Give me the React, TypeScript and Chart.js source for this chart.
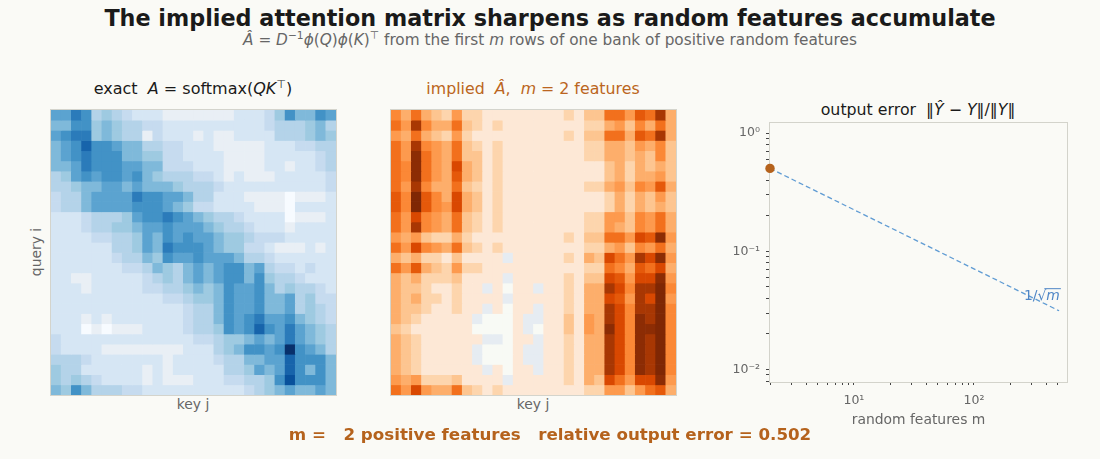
import React, { useEffect, useRef } from 'react';
import { Chart, registerables } from 'chart.js';

Chart.register(...registerables);
Chart.defaults.font.family = "'DejaVu Sans', sans-serif";

const FONT = "'DejaVu Sans', sans-serif";
const BG = '#fafaf6';
const ACCENT = '#b5621c';
const REF_COLOR = '#5f9bd3';

// ---- data ----------------------------------------------------------------
// key positions j (columns) of the 28 x 28 attention matrices
const KEY_LABELS = ['0','1','2','3','4','5','6','7','8','9','10','11','12','13','14','15','16','17','18','19','20','21','22','23','24','25','26','27'];

// shade levels read per cell of the exact softmax attention (0 = lightest, 12 = darkest)
const EXACT_ROWS: number[][] = [
  [7,7,9,8,4,5,4,3,2,2,2,1,1,1,1,1,1,1,2,2,2,3,5,8,6,6,8,7],
  [6,6,8,8,5,6,5,4,4,3,3,2,2,2,2,2,2,2,2,2,2,3,4,4,4,5,6,4],
  [7,8,9,9,5,6,5,4,4,1,3,2,2,2,1,2,1,1,2,2,2,2,4,4,4,5,6,5],
  [6,7,8,10,8,8,7,6,6,4,4,3,3,2,2,2,1,1,1,1,1,2,2,2,3,3,4,4],
  [6,7,8,9,8,8,8,6,6,5,5,3,3,2,2,2,2,1,1,1,1,2,2,2,2,2,3,4],
  [6,6,7,9,8,8,8,7,7,6,6,3,3,3,2,2,2,1,1,1,1,2,2,1,2,2,3,4],
  [4,5,7,8,7,8,8,7,8,6,5,4,4,4,3,3,2,1,2,1,1,1,2,2,2,2,2,3],
  [4,4,5,6,6,7,7,6,7,6,6,6,5,4,4,4,3,2,2,2,2,2,2,2,2,2,2,3],
  [3,4,4,6,7,7,7,7,9,8,8,7,7,6,4,4,2,2,2,1,1,1,1,0,1,1,1,2],
  [3,4,4,6,7,7,7,7,8,8,8,7,6,5,3,3,2,2,2,2,1,1,1,0,2,2,2,2],
  [2,2,2,3,4,4,4,5,7,8,8,9,8,7,6,5,4,4,3,2,2,2,2,0,1,1,1,2],
  [2,2,2,3,4,4,5,5,6,7,7,8,7,7,7,6,5,4,4,3,2,2,2,1,2,2,2,2],
  [2,2,2,2,3,3,4,4,5,7,6,8,7,8,7,7,6,5,5,4,3,3,3,2,2,2,2,2],
  [2,2,2,2,2,2,4,4,5,7,6,9,8,8,8,7,6,5,5,3,3,2,1,1,1,2,1,2],
  [2,2,2,2,2,2,3,4,4,6,5,8,7,7,8,7,7,7,6,4,4,3,2,2,2,2,2,2],
  [2,2,2,2,2,2,2,3,3,4,6,5,4,6,7,6,7,8,8,6,7,4,3,3,2,3,2,2],
  [2,2,1,1,2,2,2,2,2,3,4,5,4,6,7,6,7,8,8,6,8,5,4,4,3,2,2,2],
  [2,2,2,1,2,2,2,2,2,3,3,4,4,5,6,5,6,8,7,7,8,6,4,5,4,4,3,2],
  [2,2,2,2,2,2,2,2,2,2,2,3,3,4,5,5,6,8,7,7,8,6,6,7,4,5,3,3],
  [2,2,2,2,2,2,2,2,2,2,2,2,2,3,4,4,6,8,7,7,8,6,6,7,4,5,4,3],
  [2,2,2,1,2,1,2,2,2,2,2,2,2,3,4,4,6,8,7,8,9,7,7,8,6,5,4,3],
  [2,2,2,0,1,0,1,1,1,2,2,2,2,3,4,4,5,8,7,8,10,8,7,9,7,6,5,4],
  [3,2,2,2,2,2,2,2,2,2,2,2,2,2,3,3,4,5,5,6,7,6,7,9,7,6,5,4],
  [3,2,2,2,2,1,1,1,1,1,1,1,1,2,2,2,4,5,6,8,8,7,8,12,8,7,6,4],
  [4,4,4,3,2,2,2,2,2,2,2,1,2,2,2,2,3,4,4,6,6,7,7,10,8,8,8,6],
  [5,4,4,2,2,2,2,2,2,1,2,1,2,2,2,2,2,4,4,5,7,6,7,10,8,6,8,6],
  [5,4,5,4,3,2,2,2,2,1,2,1,1,1,2,2,2,3,3,4,4,5,8,11,8,8,8,6],
  [6,5,8,6,4,4,4,3,3,2,2,2,2,2,2,2,2,2,2,3,4,5,6,7,6,6,7,6],
];

// shade levels read per cell of the implied matrix with m = 2 features
// (0 = lightest orange, 11 = darkest; -1 / -2 = cells drawn below the colour range)
const IMPLIED_ROWS: number[][] = [
  [5,3,6,3,2,1,4,1,1,0,0,0,0,0,0,0,0,1,0,2,2,6,6,4,7,6,9,3],
  [6,4,9,5,3,3,6,2,1,0,1,0,0,0,0,0,0,0,0,1,1,3,4,2,5,3,6,3],
  [4,3,6,3,2,1,4,1,0,0,0,0,0,0,0,0,0,1,0,2,2,6,6,3,7,6,9,3],
  [6,4,9,5,4,3,6,2,1,0,1,0,0,0,0,0,0,0,0,1,1,3,3,2,4,3,5,2],
  [6,4,10,6,4,3,6,2,2,0,1,0,0,0,0,0,0,0,0,1,1,3,3,2,3,2,5,2],
  [6,5,10,6,4,3,8,3,2,0,1,0,0,0,0,0,0,0,0,0,0,2,3,1,3,2,3,2],
  [6,5,10,6,4,3,7,3,2,0,1,0,0,0,0,0,0,0,0,0,0,2,3,1,3,3,4,2],
  [6,4,9,5,3,3,6,2,1,0,1,0,0,0,0,0,0,0,0,1,1,3,4,2,5,4,7,3],
  [7,5,11,7,5,3,8,3,2,0,1,0,0,0,0,0,0,0,0,0,0,1,3,1,3,2,4,2],
  [7,5,11,7,5,4,8,3,2,0,1,0,0,0,0,0,0,0,0,0,0,1,3,1,3,2,3,2],
  [6,4,8,5,4,3,6,2,1,0,1,0,0,0,0,0,0,0,0,1,1,4,4,2,5,4,6,3],
  [6,4,9,5,4,3,6,2,1,0,1,0,0,0,0,0,0,0,0,1,1,4,3,2,5,4,6,3],
  [4,3,4,2,1,1,3,1,0,0,0,0,0,0,0,0,0,1,0,2,2,6,6,4,8,7,10,4],
  [6,4,8,5,4,3,6,2,1,0,1,0,0,0,0,0,0,0,0,1,1,3,4,2,5,4,6,3],
  [3,2,3,1,1,0,2,0,0,0,0,-1,0,0,0,0,0,1,0,3,2,8,6,4,9,8,10,4],
  [6,4,7,3,2,1,4,1,1,0,0,0,0,0,0,0,0,0,0,1,1,6,5,3,7,6,8,3],
  [3,2,3,1,1,1,2,0,0,0,0,-1,0,0,0,0,0,1,0,2,2,8,7,4,8,8,10,4],
  [3,2,2,1,0,0,1,0,0,-1,0,-2,0,0,-1,0,0,1,0,3,3,9,8,5,9,9,11,5],
  [3,2,3,1,1,0,1,0,0,0,0,-1,0,0,0,0,0,1,0,3,3,8,7,4,9,8,11,4],
  [3,2,2,1,0,0,1,0,0,-1,0,-2,0,0,-1,0,0,1,0,3,3,9,8,5,9,9,11,5],
  [3,2,1,0,0,0,0,0,-1,-2,-2,-2,0,-1,-1,0,0,2,0,4,3,9,8,5,10,9,11,5],
  [2,1,0,0,0,0,0,0,-2,-2,-2,-2,0,-1,-2,0,0,2,0,4,3,10,8,5,10,10,11,5],
  [3,2,1,0,0,0,0,0,0,-1,-1,-2,0,0,-1,0,0,1,0,3,3,9,8,5,10,9,11,5],
  [3,2,1,0,0,0,0,0,-1,-2,-2,-2,0,-1,-1,0,0,1,0,3,3,9,8,5,10,9,11,5],
  [3,2,1,0,0,0,0,0,-1,-2,-2,-2,0,-1,-1,0,0,1,0,3,3,9,8,5,10,9,11,5],
  [3,2,1,0,0,0,0,0,0,-1,0,-2,0,0,-1,0,0,1,0,3,3,9,8,5,10,9,11,5],
  [4,3,4,1,1,1,2,0,0,0,0,-1,0,0,0,0,0,1,0,3,2,8,6,4,8,8,10,4],
  [6,4,8,4,3,3,6,2,1,0,1,0,0,0,0,0,0,0,0,1,1,4,4,2,4,6,7,3],
];

// output-error panel
const M_OBSERVED = [2];
const ERR_OBSERVED = [0.502];
const REF_M = [2, 512];
const REF_ERR = [0.502, 0.0314];
const REF_LABEL_AT = { m: 520, err: 0.0386 };
const X_TICKS = [2,3,4,5,6,7,8,9,10,20,30,40,50,60,70,80,90,100,200,300,400,500];
const Y_TICKS = [0.008,0.009,0.01,0.02,0.03,0.04,0.05,0.06,0.07,0.08,0.09,0.1,0.2,0.3,0.4,0.5,0.6,0.7,0.8,0.9,1];
const X_TICK_LABELS: Record<string, string> = { '10': '10¹', '100': '10²' };
const Y_TICK_LABELS: Record<string, string> = { '1': '10⁰', '0.1': '10⁻¹', '0.01': '10⁻²' };

// ---- colours ---------------------------------------------------------------
const BLUES = ['#f7fbff','#e9eff5','#d6e6f4','#c6dbef','#b4d3e9','#9ecae1','#7fb9da','#5ba3d0','#4292c6','#2b7bba','#1764ab','#08519c','#08306b'];
const ORANGES = ['#fde8d6','#fdd5ad','#fdc590','#fdae6b','#fd9a4e','#fb8836','#f2701d','#e5590a','#d94801','#a83703','#8c2c04','#7f2704'];
const blueOf = (lv: number) => BLUES[Math.max(0, Math.min(BLUES.length - 1, lv))];
const orangeOf = (lv: number) => (lv === -2 ? '#f8faf5' : lv === -1 ? '#e6ecf2' : ORANGES[Math.min(ORANGES.length - 1, lv)]);

const framePlugin = (id: string, color: string, before: boolean) => {
  const draw = (chart: any) => {
    const { ctx, chartArea: a } = chart;
    ctx.save();
    ctx.strokeStyle = color;
    ctx.lineWidth = 1;
    ctx.strokeRect(Math.round(a.left) - 0.5, Math.round(a.top) - 0.5, Math.round(a.right - a.left) + 1, Math.round(a.bottom - a.top) + 1);
    ctx.restore();
  };
  return before ? { id, beforeDatasetsDraw: draw } : { id, afterDatasetsDraw: draw };
};

function Heatmap({ rows, colorOf, left, top }: { rows: number[][]; colorOf: (v: number) => string; left: number; top: number }) {
  const ref = useRef<HTMLCanvasElement>(null);
  useEffect(() => {
    const chart = new Chart(ref.current!, {
      type: 'bar',
      data: {
        labels: KEY_LABELS,
        datasets: rows.map((row, i) => ({
          label: `query ${i}`,
          data: row.map(() => 1),
          backgroundColor: row.map(colorOf),
          borderWidth: 0,
          barPercentage: 1,
          categoryPercentage: 1,
        })),
      },
      options: {
        responsive: false,
        animation: false,
        layout: { padding: 1 },
        plugins: { legend: { display: false }, tooltip: { enabled: false } },
        scales: {
          x: { display: false, stacked: true },
          y: { display: false, stacked: true, min: 0, max: rows.length, reverse: true },
        },
      },
      plugins: [framePlugin('hmFrame', '#d4d4cc', false)],
    } as any);
    return () => chart.destroy();
  }, []);
  return <canvas ref={ref} width={287} height={287} style={{ position: 'absolute', left, top }} />;
}

const refLabelPlugin = {
  id: 'refLabel',
  afterDatasetsDraw(chart: any) {
    const { ctx, scales } = chart;
    const px = scales.x.getPixelForValue(REF_LABEL_AT.m);
    const py = scales.y.getPixelForValue(REF_LABEL_AT.err);
    ctx.save();
    ctx.fillStyle = '#4f86c6';
    ctx.strokeStyle = '#4f86c6';
    ctx.textBaseline = 'alphabetic';
    ctx.textAlign = 'left';
    const normal = `13.9px ${FONT}`;
    const italic = `italic 13.9px ${FONT}`;
    ctx.font = italic;
    const wm = ctx.measureText('m').width;
    ctx.font = normal;
    const wp = ctx.measureText('1/√').width;
    ctx.fillText('1/√', px - wm - wp, py);
    ctx.font = italic;
    ctx.fillText('m', px - wm, py);
    ctx.lineWidth = 1;
    ctx.beginPath();
    ctx.moveTo(px - wm - 2, py - 11.5);
    ctx.lineTo(px + 1, py - 11.5);
    ctx.stroke();
    ctx.restore();
  },
};

const noPad = (s: any) => {
  s.paddingTop = 0;
  s.paddingBottom = 0;
  s.paddingLeft = 0;
  s.paddingRight = 0;
};

function ErrorPlot() {
  const ref = useRef<HTMLCanvasElement>(null);
  useEffect(() => {
    const tickFont = { size: 12.5 };
    const chart = new Chart(ref.current!, {
      type: 'scatter',
      data: {
        datasets: [
          {
            type: 'scatter',
            label: 'error',
            data: M_OBSERVED.map((m, i) => ({ x: m, y: ERR_OBSERVED[i] })),
            backgroundColor: ACCENT,
            borderWidth: 0,
            pointRadius: 4.7,
            clip: false,
            order: 0,
          },
          {
            type: 'line',
            label: '1/sqrt(m)',
            data: REF_M.map((m, i) => ({ x: m, y: REF_ERR[i] })),
            borderColor: REF_COLOR,
            borderWidth: 1.3,
            borderDash: [5, 3],
            pointRadius: 0,
            fill: false,
            order: 1,
          },
        ],
      },
      options: {
        responsive: false,
        animation: false,
        layout: { padding: { left: 0, right: 33, top: 10, bottom: 0 } },
        plugins: { legend: { display: false }, tooltip: { enabled: false } },
        scales: {
          x: {
            type: 'logarithmic',
            min: 2,
            max: 596,
            afterBuildTicks: (s: any) => { s.ticks = X_TICKS.map((v) => ({ value: v })); },
            afterFit: (s: any) => { s.height = 50; noPad(s); },
            ticks: {
              autoSkip: false, maxRotation: 0, minRotation: 0, padding: 8, color: '#666', font: tickFont,
              callback: (v: any) => X_TICK_LABELS[String(v)] ?? '',
            },
            grid: { drawOnChartArea: false, tickLength: 3, color: '#444' },
            border: { display: false },
            title: { display: true, text: 'random features m', color: '#666', font: { size: 13.9 }, padding: { top: 0, bottom: 3 } },
          },
          y: {
            type: 'logarithmic',
            min: 0.00785,
            max: 1.215,
            afterBuildTicks: (s: any) => { s.ticks = Y_TICKS.map((v) => ({ value: v })); },
            afterFit: (s: any) => { s.width = 50; noPad(s); },
            ticks: {
              autoSkip: false, padding: 6, color: '#666', font: tickFont,
              callback: (v: any) => Y_TICK_LABELS[String(v)] ?? '',
            },
            grid: { drawOnChartArea: false, tickLength: 4, color: '#444' },
            border: { display: false },
          },
        },
      },
      plugins: [framePlugin('errFrame', '#d3d3cb', true), refLabelPlugin],
    } as any);
    return () => chart.destroy();
  }, []);
  return <canvas ref={ref} width={380} height={319} style={{ position: 'absolute', left: 720, top: 113 }} />;
}

const I = ({ children }: any) => <span style={{ fontStyle: 'italic' }}>{children}</span>;
const Sup = ({ children }: any) => <span style={{ fontSize: '0.7em', position: 'relative', top: '-0.55em' }}>{children}</span>;

function Label({ cx, cy, size, color, weight = 'normal', rotate = false, children }: any) {
  return (
    <div
      style={{
        position: 'absolute', left: cx, top: cy,
        transform: `translate(-50%, -50%)${rotate ? ' rotate(-90deg)' : ''}`,
        fontSize: size, lineHeight: 1, color, fontWeight: weight, whiteSpace: 'pre',
      }}
    >
      {children}
    </div>
  );
}

export default function App() {
  return (
    <div style={{ position: 'fixed', left: 0, top: 0, width: 1100, height: 459, background: BG, overflow: 'hidden', fontFamily: FONT }}>
      <Label cx={550} cy={18} size={22.3} color="#1a1a1a" weight="bold">
        The implied attention matrix sharpens as random features accumulate
      </Label>
      <Label cx={550} cy={41} size={15.3} color="#666">
        <I>Â</I> = <I>D</I><Sup>−1</Sup><I>ϕ</I>(<I>Q</I>)<I>ϕ</I>(<I>K</I>)<Sup>⊤</Sup> from the first <I>m</I> rows of one bank of positive random features
      </Label>

      <Label cx={193} cy={89} size={16} color="#1a1a1a">
        exact  <I>A</I> = softmax(<I>QK</I><Sup>⊤</Sup>)
      </Label>
      <Label cx={533} cy={89} size={15.8} color="#bb6520">
        implied  <I>Â</I>,  <I>m</I> = 2 features
      </Label>
      <Label cx={918} cy={110} size={15.8} color="#1a1a1a">
        output error  ‖<I>Ŷ</I> − <I>Y</I>‖/‖<I>Y</I>‖
      </Label>

      <Heatmap rows={EXACT_ROWS} colorOf={blueOf} left={50} top={109} />
      <Heatmap rows={IMPLIED_ROWS} colorOf={orangeOf} left={390} top={109} />
      <ErrorPlot />

      <Label cx={37} cy={252} size={13.9} color="#666" rotate>query i</Label>
      <Label cx={193} cy={405} size={13.9} color="#666">key j</Label>
      <Label cx={533} cy={405} size={13.9} color="#666">key j</Label>

      <Label cx={550} cy={434} size={16.7} color={ACCENT} weight="bold">
        {'m =   2 positive features   relative output error = 0.502'}
      </Label>
    </div>
  );
}
